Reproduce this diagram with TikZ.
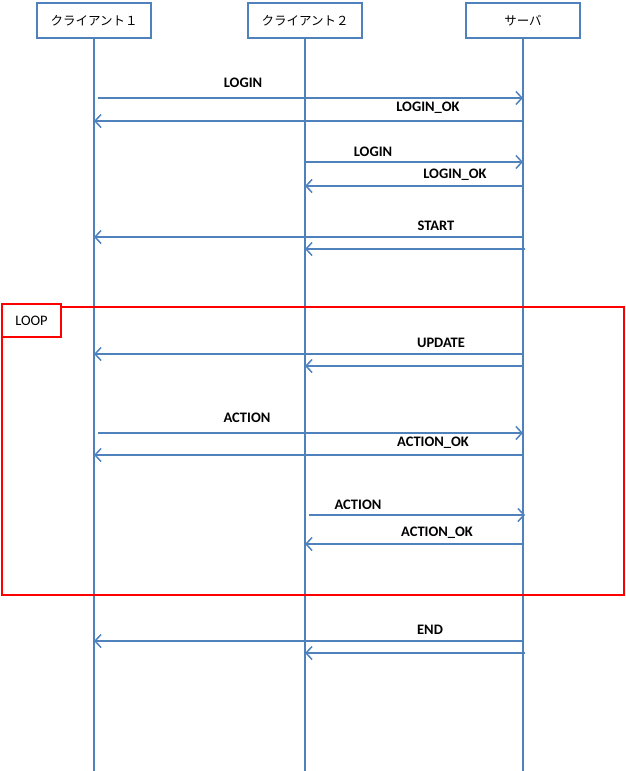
\documentclass[tikz,border=0pt]{standalone}
\usepackage{fontspec}
\setmainfont{Carlito}
\newfontfamily\jpfont{Noto Sans CJK JP}
\usetikzlibrary{arrows.meta}
\definecolor{lineblue}{RGB}{79,129,189}
\begin{document}
\begin{tikzpicture}[x=1pt,y=-1pt,
    actor/.style={draw=lineblue,line width=2pt,minimum width=114pt,minimum height=35pt,inner sep=0pt,font=\jpfont\fontsize{12.5}{14}\selectfont},
    life/.style={draw=lineblue,line width=1.5pt},
    msg/.style={draw=lineblue,line width=1.5pt,-{Straight Barb[length=6pt,width=13pt]}},
    lbl/.style={font=\bfseries\fontsize{14.5}{16}\selectfont},
    loopbox/.style={draw=red,line width=2pt}]
    \useasboundingbox (0,0) rectangle (626,771);

    % actors
    \node[actor] (c1) at (94,20.5) {クライアント１};
    \node[actor] (c2) at (305,20.5) {クライアント２};
    \node[actor] (sv) at (523,20.5) {サーバ};

    % lifelines
    \draw[life] (c1.south) -- (c1 |- 0,771);
    \draw[life] (c2.south) -- (c2 |- 0,771);
    \draw[life] (sv.south) -- (sv |- 0,771);

    % login
    \draw[msg] ([xshift=4pt]c1 |- 0,98) -- (sv |- 0,98);
    \node[lbl] (login1) at (243,83) {LOGIN};
    \draw[msg] (sv |- 0,121) -- (c1 |- 0,121);
    \node[lbl] (loginok1) at (428,108) {LOGIN\_OK};
    \draw[msg] (c2 |- 0,162) -- (sv |- 0,162);
    \node[lbl] (login2) at (373,152) {LOGIN};
    \draw[msg] (sv |- 0,186) -- (c2 |- 0,186);
    \node[lbl] (loginok2) at (455,175) {LOGIN\_OK};

    % start
    \draw[msg] (sv |- 0,237) -- (c1 |- 0,237);
    \draw[msg] ([xshift=2pt]sv |- 0,249) -- (c2 |- 0,249);
    \node[lbl] (start) at (436,226) {START};

    % loop frame
    \draw[loopbox] (2,307) rectangle (624,595);
    \node[loopbox,fill=white,minimum width=59pt,minimum height=33pt,inner sep=0pt,font=\fontsize{14.5}{16}\selectfont] (loop) at (31.5,320.5) {LOOP};

    % update
    \draw[msg] (sv |- 0,354) -- (c1 |- 0,354);
    \draw[msg] (sv |- 0,366) -- (c2 |- 0,366);
    \node[lbl] (update) at (441,343) {UPDATE};

    % actions
    \draw[msg] ([xshift=4pt]c1 |- 0,433) -- (sv |- 0,433);
    \node[lbl] (action1) at (247,418) {ACTION};
    \draw[msg] (sv |- 0,455) -- (c1 |- 0,455);
    \node[lbl] (actionok1) at (433,443) {ACTION\_OK};
    \draw[msg] ([xshift=4pt]c2 |- 0,515) -- ([xshift=2pt]sv |- 0,515);
    \node[lbl] (action2) at (358,505) {ACTION};
    \draw[msg] (sv |- 0,544) -- (c2 |- 0,544);
    \node[lbl] (actionok2) at (437,533) {ACTION\_OK};

    % end
    \draw[msg] (sv |- 0,641) -- (c1 |- 0,641);
    \draw[msg] ([xshift=2pt]sv |- 0,653) -- (c2 |- 0,653);
    \node[lbl] (end) at (430,630) {END};
\end{tikzpicture}
\end{document}
